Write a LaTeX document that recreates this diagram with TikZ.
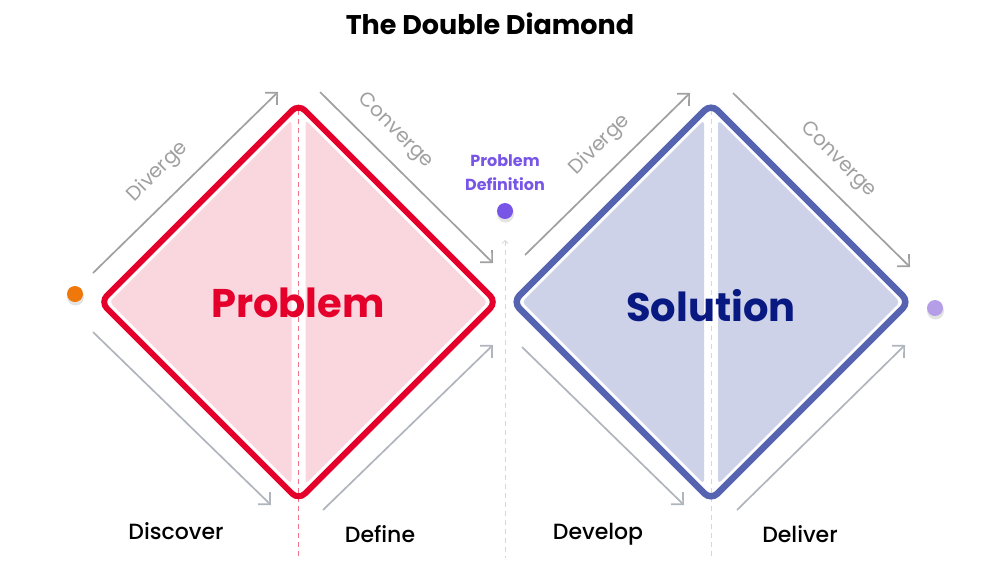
\documentclass[tikz,border=0pt]{standalone}
\usepackage{fontspec}
\setmainfont{Poppins}
\newfontfamily\pmedium{Poppins Medium}
\usetikzlibrary{arrows.meta,calc}
\definecolor{pred}{RGB}{228,0,43}
\definecolor{pfill}{RGB}{250,214,222}
\definecolor{sblue}{RGB}{85,99,176}
\definecolor{sfill}{RGB}{205,210,233}
\definecolor{navy}{RGB}{8,25,130}
\definecolor{ppl}{RGB}{120,85,230}
\definecolor{lppl}{RGB}{180,158,232}
\definecolor{dorange}{RGB}{240,120,10}
\definecolor{agray}{RGB}{160,160,160}
\definecolor{bgray}{RGB}{176,180,188}
\definecolor{lgray}{RGB}{215,215,218}
\tikzset{
  flow/.style={draw=agray,line width=1.7pt,-{Straight Barb[length=8.5pt,width=17pt,line width=1.7pt]}},
  flowb/.style={flow,draw=bgray},
  phase/.style={text=agray,font=\fontsize{20}{22}\selectfont},
  stage/.style={font=\pmedium\fontsize{22}{24}\selectfont},
  dot/.style={circle,minimum size=16pt,inner sep=0pt},
  shadowdot/.style={circle,minimum size=17pt,inner sep=0pt,fill=black!18,opacity=.6},
  bigword/.style={font=\fontsize{40}{44}\selectfont\bfseries},
  divider/.style={dashed,line width=.8pt,dash pattern=on 5pt off 4pt}
}
\begin{document}
\begin{tikzpicture}[x=1pt,y=-1pt]
\useasboundingbox (0,0) rectangle (1000,563);
% title
\node[font=\fontsize{27}{30}\selectfont\bfseries] (title) at (490,24) {The Double Diamond};

% ---------- Problem diamond ----------
\coordinate (pc) at (298.5,302);
\fill[pfill,rounded corners=4pt] ($(pc)+(-189,0)$) -- ($(pc)+(-7,-182)$) -- ($(pc)+(-7,182)$) -- cycle;
\fill[pfill,rounded corners=4pt] ($(pc)+(189,0)$) -- ($(pc)+(7,-182)$) -- ($(pc)+(7,182)$) -- cycle;
\draw[pred!55,divider] ($(pc)+(0,-192)$) -- (298.5,558);
\draw[pred,line width=6pt,rounded corners=9pt] ($(pc)+(-198,0)$) -- ($(pc)+(0,-198)$) -- ($(pc)+(198,0)$) -- ($(pc)+(0,198)$) -- cycle;
\node[bigword,text=pred] (problem) at (298,303) {Problem};

% ---------- Solution diamond ----------
\coordinate (sc) at (711,302);
\fill[sfill,rounded corners=4pt] ($(sc)+(-189,0)$) -- ($(sc)+(-7,-182)$) -- ($(sc)+(-7,182)$) -- cycle;
\fill[sfill,rounded corners=4pt] ($(sc)+(189,0)$) -- ($(sc)+(7,-182)$) -- ($(sc)+(7,182)$) -- cycle;
\draw[lgray,divider] ($(sc)+(0,-192)$) -- (711,558);
\draw[sblue,line width=6.5pt,rounded corners=9pt] ($(sc)+(-198,0)$) -- ($(sc)+(0,-198)$) -- ($(sc)+(198,0)$) -- ($(sc)+(0,198)$) -- cycle;
\node[bigword,text=navy] (solution) at (711,306) {Solution};

% ---------- middle divider ----------
\coordinate (mtop) at (505,240);
\coordinate (mbot) at (505,558);
\draw[lgray,divider,{Straight Barb[length=3pt,width=6pt]}-] (mtop) -- (mbot);

% ---------- dots ----------
\node[shadowdot] at (75.5,297) {};
\node[dot,fill=dorange] (start) at (75,294) {};
\node[shadowdot] at (505.5,214) {};
\node[dot,fill=ppl] (pdef) at (505,211) {};
\node[shadowdot] at (935.5,311) {};
\node[dot,fill=lppl] (end) at (935,308) {};
\node[font=\fontsize{16}{24}\selectfont\bfseries,text=ppl,align=center] (pdeflabel) at (505,173) {Problem\\Definition};

% ---------- flow arrows: problem ----------
\coordinate (a1s) at (93,273);  \coordinate (a1e) at (278,92);
\coordinate (a2s) at (320,92);  \coordinate (a2e) at (493,263);
\coordinate (a3s) at (93,332);  \coordinate (a3e) at (271,505);
\coordinate (a4s) at (323,510); \coordinate (a4e) at (493,345);
\draw[flow] (a1s) -- (a1e);
\draw[flow] (a2s) -- (a2e);
\draw[flowb] (a3s) -- (a3e);
\draw[flowb] (a4s) -- (a4e);
\node[phase,rotate=45] (div1) at (158,172) {Diverge};
\node[phase,rotate=-45] (con1) at (395,131) {Converge};

% ---------- flow arrows: solution ----------
\coordinate (b1s) at (525,255); \coordinate (b1e) at (690,93);
\coordinate (b2s) at (733,93);  \coordinate (b2e) at (910,267);
\coordinate (b3s) at (522,347); \coordinate (b3e) at (684,505);
\coordinate (b4s) at (737,510); \coordinate (b4e) at (905,345);
\draw[flow] (b1s) -- (b1e);
\draw[flow] (b2s) -- (b2e);
\draw[flowb] (b3s) -- (b3e);
\draw[flowb] (b4s) -- (b4e);
\node[phase,rotate=45] (div2) at (600,145) {Diverge};
\node[phase,rotate=-45] (con2) at (838,160) {Converge};

% ---------- stage labels ----------
\node[stage] (discover) at (176,531) {Discover};
\node[stage] (define) at (380,534) {Define};
\node[stage] (develop) at (598,534) {Develop};
\node[stage] (deliver) at (800,534) {Deliver};
\end{tikzpicture}
\end{document}
